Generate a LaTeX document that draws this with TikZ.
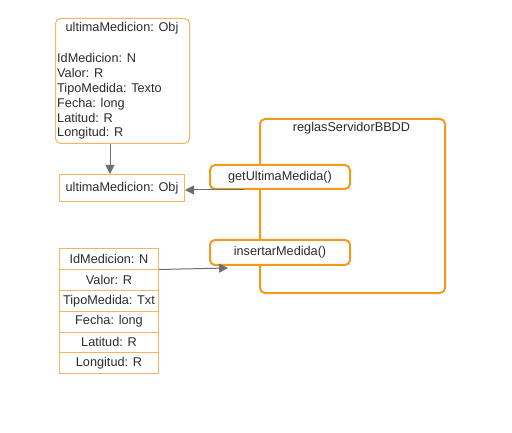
\documentclass[tikz,border=0pt]{standalone}
\usepackage{fontspec}
\setmainfont{Liberation Sans}
\usetikzlibrary{arrows.meta,positioning}
\definecolor{thinor}{HTML}{F5B363}
\definecolor{thickor}{HTML}{F29A1E}
\definecolor{arr}{HTML}{6E6E6E}
\definecolor{txt}{HTML}{2B2B2B}
\begin{document}
\begin{tikzpicture}[x=1pt,y=-1pt,
  every node/.style={font=\fontsize{12.7}{14.8}\selectfont, text=txt, inner sep=0pt},
  thinbox/.style={draw=thinor, line width=1pt},
  thickbox/.style={draw=thickor, line width=2pt, rounded corners=5pt, fill=white},
  arrline/.style={draw=arr, line width=1pt, -{Triangle[length=9pt,width=9pt]}},
  cell/.style={thinbox, minimum width=99pt, minimum height=20.8pt, anchor=north west}]
\useasboundingbox (0,0) rectangle (512,433);
% top object
\node[thinbox, rounded corners=5pt, minimum width=134pt, minimum height=125pt, anchor=north west] (obj) at (55,18) {};
\node[anchor=center] (objt) at (122,28) {ultimaMedicion: Obj};
\node[anchor=north west, align=left] (objl) at (57,53.5) {IdMedicion: N\\Valor: R\\TipoMedida: Texto\\Fecha: long\\Latitud: R\\Longitud: R};
% result box
\node[thinbox, minimum width=125pt, minimum height=27pt, anchor=north west] (res) at (59,174) {ultimaMedicion: Obj};
% server box
\node[thickbox, minimum width=185pt, minimum height=174pt, anchor=north west] (srv) at (259,118) {};
\node (srvt) at (351.5,128) {reglasServidorBBDD};
\node[thickbox, minimum width=140pt, minimum height=24pt, anchor=north west] (get) at (209,164) {getUltimaMedida()};
\node[thickbox, minimum width=140pt, minimum height=25pt, anchor=north west] (ins) at (209,239) {insertarMedida()};
% table
\node[cell] (c1) at (59,248.3) {IdMedicion: N};
\node[cell] (c2) at (59,269.1) {Valor: R};
\node[cell] (c3) at (59,289.9) {TipoMedida: Txt};
\node[cell] (c4) at (59,310.7) {Fecha: long};
\node[cell] (c5) at (59,331.5) {Latitud: R};
\node[cell, minimum height=21pt] (c6) at (59,352.3) {Longitud: R};
% connectors
\coordinate (g0) at (244,190);
\coordinate (i1) at (228,268);
\draw[arrline] (obj.south -| 110,0) -- (res.north -| 110,0);
\draw[arrline] (g0) -- (g0 -| res.east);
\draw[arrline] (c1.east |- 0,269.5) -- (i1);
\end{tikzpicture}
\end{document}
